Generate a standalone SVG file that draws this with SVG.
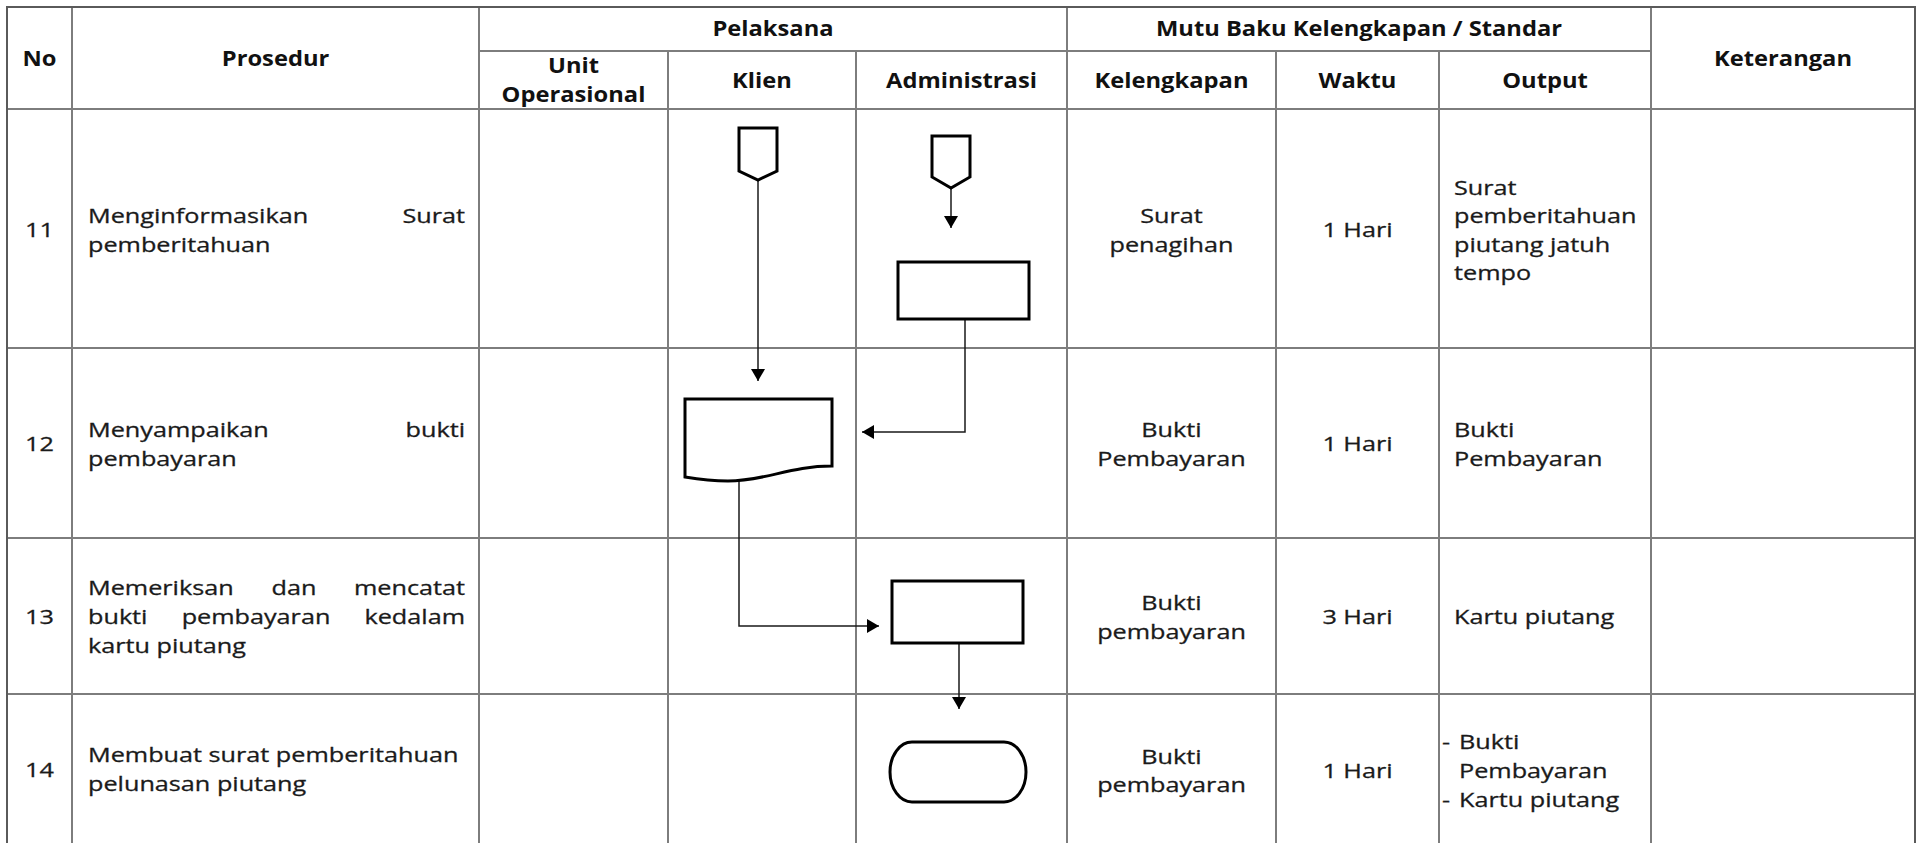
<svg xmlns="http://www.w3.org/2000/svg" width="1919" height="843" viewBox="0 0 1919 843">
  <style>
    .frame{stroke:#5a5a5a;stroke-width:2;fill:none}
    .grid{stroke:#7d7d7d;stroke-width:2;fill:none}
    .hd{font-family:"Open Sans","Liberation Sans",sans-serif;font-weight:700;font-size:21px;fill:#111}
    .tx{font-family:"Open Sans","Liberation Sans",sans-serif;font-size:20.5px;fill:#1a1a1a;stroke:#1a1a1a;stroke-width:0.3px}
    .c{text-anchor:middle}
    .e{text-anchor:end}
    .shape{fill:#fff;stroke:#000;stroke-width:3;stroke-linejoin:miter}
    .flow{fill:none;stroke:#1a1a1a;stroke-width:1.5}
  </style>
  <defs>
    <marker id="arr" markerUnits="userSpaceOnUse" markerWidth="12" markerHeight="14" viewBox="0 0 12 14" refX="12" refY="7" orient="auto">
      <path d="M0,0 L12,7 L0,14 Z" fill="#000"/>
    </marker>
  </defs>
  <rect width="1919" height="843" fill="#fff"/>

  <!-- table grid -->
  <g id="table">
    <path class="grid" d="M479,51 H1651 M7,109 H1915 M7,348 H1915 M7,538 H1915 M7,694 H1915"/>
    <path class="grid" d="M72,7 V843 M479,7 V843 M668,51 V843 M856,51 V843 M1067,7 V843 M1276,51 V843 M1439,51 V843 M1651,7 V843"/>
    <path class="frame" d="M7,843 V7 H1915 V843"/>
  </g>

  <!-- header -->
  <g id="header">
    <text class="hd c" transform="translate(39.5,66) scale(1.13,1)">No</text>
    <text class="hd c" transform="translate(275.5,66) scale(1.13,1)">Prosedur</text>
    <text class="hd c" transform="translate(773,36) scale(1.13,1)">Pelaksana</text>
    <text class="hd c" transform="translate(1359,36) scale(1.13,1)">Mutu Baku Kelengkapan / Standar</text>
    <text class="hd c" transform="translate(573.5,73) scale(1.13,1)"><tspan x="0">Unit</tspan><tspan x="0" dy="29">Operasional</tspan></text>
    <text class="hd c" transform="translate(762,88) scale(1.13,1)">Klien</text>
    <text class="hd c" transform="translate(961.5,88) scale(1.13,1)">Administrasi</text>
    <text class="hd c" transform="translate(1171.5,88) scale(1.13,1)">Kelengkapan</text>
    <text class="hd c" transform="translate(1357.5,88) scale(1.13,1)">Waktu</text>
    <text class="hd c" transform="translate(1545,88) scale(1.13,1)">Output</text>
    <text class="hd c" transform="translate(1783,66) scale(1.13,1)">Keterangan</text>
  </g>

  <!-- row 11 -->
  <g id="row-11">
    <text class="tx c" transform="translate(39.5,237) scale(1.23,1)">11</text>
    <text class="tx" transform="translate(88,223) scale(1.23,1)"><tspan x="0">Menginformasikan</tspan><tspan x="0" dy="29">pemberitahuan</tspan></text>
    <text class="tx e" transform="translate(465,223) scale(1.23,1)">Surat</text>
    <text class="tx c" transform="translate(1171.5,223) scale(1.23,1)"><tspan x="0">Surat</tspan><tspan x="0" dy="29">penagihan</tspan></text>
    <text class="tx c" transform="translate(1357.5,237) scale(1.23,1)">1 Hari</text>
    <text class="tx" transform="translate(1454,195) scale(1.23,1)"><tspan x="0">Surat</tspan><tspan x="0" dy="28.5">pemberitahuan</tspan><tspan x="0" dy="28.5">piutang jatuh</tspan><tspan x="0" dy="28.5">tempo</tspan></text>
  </g>

  <!-- row 12 -->
  <g id="row-12">
    <text class="tx c" transform="translate(39.5,451) scale(1.23,1)">12</text>
    <text class="tx" transform="translate(88,437) scale(1.23,1)"><tspan x="0">Menyampaikan</tspan><tspan x="0" dy="29">pembayaran</tspan></text>
    <text class="tx e" transform="translate(465,437) scale(1.23,1)">bukti</text>
    <text class="tx c" transform="translate(1171.5,437) scale(1.23,1)"><tspan x="0">Bukti</tspan><tspan x="0" dy="29">Pembayaran</tspan></text>
    <text class="tx c" transform="translate(1357.5,451) scale(1.23,1)">1 Hari</text>
    <text class="tx" transform="translate(1454,437) scale(1.23,1)"><tspan x="0">Bukti</tspan><tspan x="0" dy="29">Pembayaran</tspan></text>
  </g>

  <!-- row 13 -->
  <g id="row-13">
    <text class="tx c" transform="translate(39.5,624) scale(1.23,1)">13</text>
    <text class="tx" transform="translate(88,595) scale(1.23,1)"><tspan x="0">Memeriksan</tspan><tspan x="0" dy="29">bukti</tspan><tspan x="0" dy="29">kartu piutang</tspan></text>
    <text class="tx c" transform="translate(294,595) scale(1.23,1)">dan</text>
    <text class="tx e" transform="translate(465,595) scale(1.23,1)">mencatat</text>
    <text class="tx c" transform="translate(256,624) scale(1.23,1)">pembayaran</text>
    <text class="tx e" transform="translate(465,624) scale(1.23,1)">kedalam</text>
    <text class="tx c" transform="translate(1171.5,610) scale(1.23,1)"><tspan x="0">Bukti</tspan><tspan x="0" dy="29">pembayaran</tspan></text>
    <text class="tx c" transform="translate(1357.5,624) scale(1.23,1)">3 Hari</text>
    <text class="tx" transform="translate(1454,624) scale(1.23,1)">Kartu piutang</text>
  </g>

  <!-- row 14 -->
  <g id="row-14">
    <text class="tx c" transform="translate(39.5,777) scale(1.23,1)">14</text>
    <text class="tx" transform="translate(88,762) scale(1.23,1)"><tspan x="0">Membuat surat pemberitahuan</tspan><tspan x="0" dy="29">pelunasan piutang</tspan></text>
    <text class="tx c" transform="translate(1171.5,764) scale(1.23,1)"><tspan x="0">Bukti</tspan><tspan x="0" dy="28.5">pembayaran</tspan></text>
    <text class="tx c" transform="translate(1357.5,778) scale(1.23,1)">1 Hari</text>
    <text class="tx" transform="translate(1442,749) scale(1.23,1)"><tspan x="0">-</tspan><tspan x="0" dy="58">-</tspan></text>
    <text class="tx" transform="translate(1459,749) scale(1.23,1)"><tspan x="0">Bukti</tspan><tspan x="0" dy="29">Pembayaran</tspan><tspan x="0" dy="29">Kartu piutang</tspan></text>
  </g>

  <!-- flowchart connectors -->
  <g id="connectors">
    <path class="flow" d="M758,180 V381" marker-end="url(#arr)"/>
    <path class="flow" d="M951,188 V228" marker-end="url(#arr)"/>
    <path class="flow" d="M965,319 V432 H862" marker-end="url(#arr)"/>
    <path class="flow" d="M739,480 V626 H879" marker-end="url(#arr)"/>
    <path class="flow" d="M959,643 V709" marker-end="url(#arr)"/>
  </g>

  <!-- flowchart symbols -->
  <g id="offpage-klien">
    <polygon class="shape" points="739,128 777,128 777,171 758,180 739,171"/>
  </g>
  <g id="offpage-admin">
    <polygon class="shape" points="932,136 970,136 970,177 951,188 932,177"/>
  </g>
  <g id="process-tagihan">
    <rect class="shape" x="898" y="262" width="131" height="57"/>
  </g>
  <g id="document-bukti">
    <path class="shape" d="M685,399 H832 V466 C790,466 765,481 728,481 C710,481 697,479 685,477 Z"/>
  </g>
  <g id="process-kartu">
    <rect class="shape" x="892" y="581" width="131" height="62"/>
  </g>
  <g id="terminator">
    <rect class="shape" x="890" y="742" width="136" height="60" rx="22" ry="30"/>
  </g>
</svg>
